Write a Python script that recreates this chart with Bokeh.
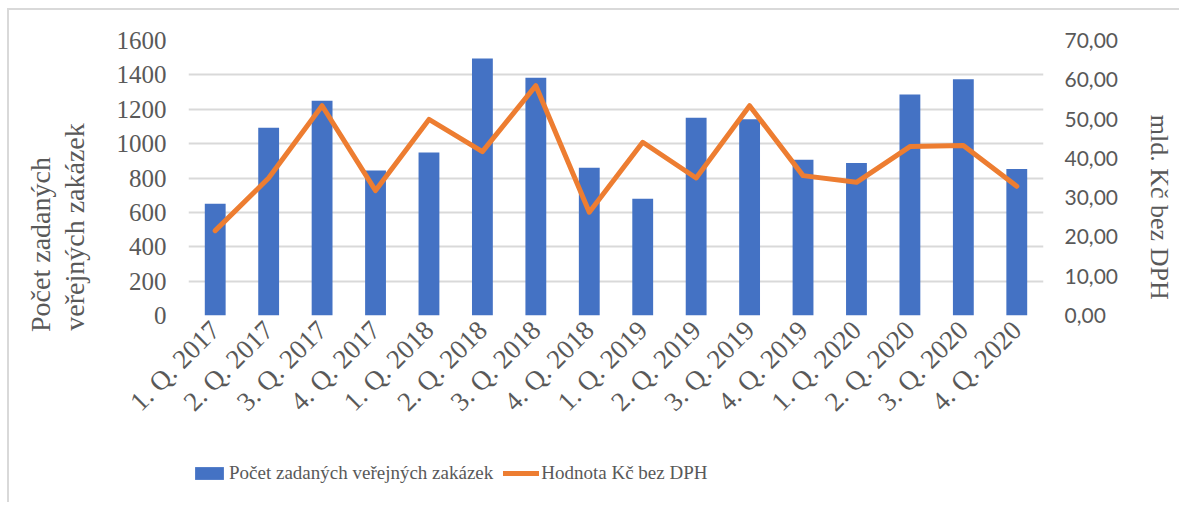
import math
from bokeh.plotting import figure
from bokeh.layouts import column
from bokeh.models import Range1d, LinearAxis, FixedTicker, Legend, LegendItem
from bokeh.embed import file_html
from bokeh.resources import INLINE

# ---- data ----
quarters = ["1. Q. 2017", "2. Q. 2017", "3. Q. 2017", "4. Q. 2017",
            "1. Q. 2018", "2. Q. 2018", "3. Q. 2018", "4. Q. 2018",
            "1. Q. 2019", "2. Q. 2019", "3. Q. 2019", "4. Q. 2019",
            "1. Q. 2020", "2. Q. 2020", "3. Q. 2020", "4. Q. 2020"]
counts = [650, 1092, 1249, 843, 948, 1495, 1383, 859,
          679, 1150, 1142, 906, 888, 1286, 1375, 853]
values = [21.6, 35.0, 53.4, 31.8, 49.9, 41.7, 58.5, 26.3,
          44.1, 35.0, 53.4, 35.6, 33.9, 43.0, 43.3, 32.9]
left_ticks = [0, 200, 400, 600, 800, 1000, 1200, 1400, 1600]
right_ticks = [0, 10, 20, 30, 40, 50, 60, 70]
right_tick_labels = ["0,00", "10,00", "20,00", "30,00", "40,00", "50,00", "60,00", "70,00"]
bar_label = "Počet zadaných veřejných zakázek"
line_label = "Hodnota Kč bez DPH"
left_title = ["Počet zadaných", "veřejných zakázek"]
right_title = "mld. Kč bez DPH"

SERIF = "Liberation Serif"
GREY = "#595959"
BLUE = "#4472C4"
ORANGE = "#ED7D31"
NBSP = "\u00a0"

# ---------------- main chart ----------------
p = figure(x_range=quarters, y_range=Range1d(0, 1600),
           width=1170, height=432, output_backend="svg", toolbar_location=None,
           min_border_left=179, min_border_right=136, min_border_top=30, min_border_bottom=127)
p.outline_line_color = None
p.background_fill_color = "white"
p.border_fill_color = "white"
p.extra_y_ranges = {"r": Range1d(0, 70)}

p.vbar(x=quarters, top=counts, width=0.39, fill_color=BLUE, line_color=None)
p.line(x=quarters, y=values, y_range_name="r", line_color=ORANGE, line_width=5,
       line_join="round", line_cap="round")

p.xgrid.grid_line_color = None
p.ygrid.grid_line_color = "#d9d9d9"
p.ygrid.grid_line_width = 2

ly = p.yaxis[0]
ly.ticker = FixedTicker(ticks=left_ticks)
ly.axis_line_color = None
ly.major_tick_line_color = None
ly.minor_tick_line_color = None
ly.major_tick_out = 0
ly.major_tick_in = 0
ly.major_label_standoff = 22
ly.major_label_text_font = SERIF
ly.major_label_text_font_size = "25px"
ly.major_label_text_color = GREY
# trailing no-break spaces push the (bottom-to-top) title lower, as in the original
ly.axis_label = "\n".join([left_title[0] + NBSP * 19, left_title[1] + NBSP * 14])
ly.axis_label_standoff = 24
ly.axis_label_text_font = SERIF
ly.axis_label_text_font_style = "normal"
ly.axis_label_text_font_size = "28px"
ly.axis_label_text_color = GREY
ly.axis_label_text_line_height = 1.07

ry = LinearAxis(y_range_name="r", ticker=FixedTicker(ticks=right_ticks),
                major_label_overrides={t: s for t, s in zip(right_ticks, right_tick_labels)})
ry.axis_line_color = None
ry.major_tick_line_color = None
ry.minor_tick_line_color = None
ry.major_tick_out = 0
ry.major_tick_in = 0
ry.major_label_standoff = 21
ry.major_label_text_font = "Lato"
ry.major_label_text_font_size = "21px"
ry.major_label_text_color = GREY
ry.axis_label = NBSP * 9 + right_title
ry.axis_label_standoff = 24
ry.axis_label_text_font = SERIF
ry.axis_label_text_font_style = "normal"
ry.axis_label_text_font_size = "26px"
ry.axis_label_text_color = GREY
p.add_layout(ry, "right")

xa = p.xaxis[0]
xa.axis_line_color = None
xa.major_tick_line_color = None
xa.minor_tick_line_color = None
xa.major_tick_out = 0
xa.major_tick_in = 0
xa.major_label_orientation = math.pi / 4
xa.major_label_standoff = 10
xa.major_label_text_font = SERIF
xa.major_label_text_font_size = "27px"
xa.major_label_text_color = GREY

# ---------------- legend strip ----------------
lf = figure(x_range=quarters, y_range=Range1d(-10, -5),
            width=1170, height=60, output_backend="svg", toolbar_location=None,
            min_border_left=0, min_border_right=0, min_border_top=0, min_border_bottom=0,
            x_axis_location=None, y_axis_location=None)
lf.outline_line_color = None
lf.grid.grid_line_color = None
lf.background_fill_color = "white"
lf.border_fill_color = "white"
lb = lf.vbar(x=quarters, top=counts, width=0.39, fill_color=BLUE, line_color=None, visible=False)
ll = lf.line(x=quarters, y=values, line_color=ORANGE, line_width=5,
             line_join="round", line_cap="round", visible=False)
lg = Legend(items=[LegendItem(label=bar_label, renderers=[lb]),
                   LegendItem(label=line_label, renderers=[ll])],
            orientation="horizontal", location=(3, 18), margin=0, padding=0,
            border_line_color=None, background_fill_alpha=0, inactive_fill_alpha=0,
            glyph_width=36, glyph_height=16, label_standoff=2, spacing=10,
            label_text_font=SERIF, label_text_font_size="19px", label_text_color=GREY)
lf.add_layout(lg, "center")

layout = column(p, lf, spacing=0)
layout.styles = {"margin-left": "7px", "margin-top": "8px",
                 "border-top": "2px solid #d9d9d9", "border-left": "2px solid #d9d9d9"}
open("out.html", "w").write(file_html(layout, INLINE))
